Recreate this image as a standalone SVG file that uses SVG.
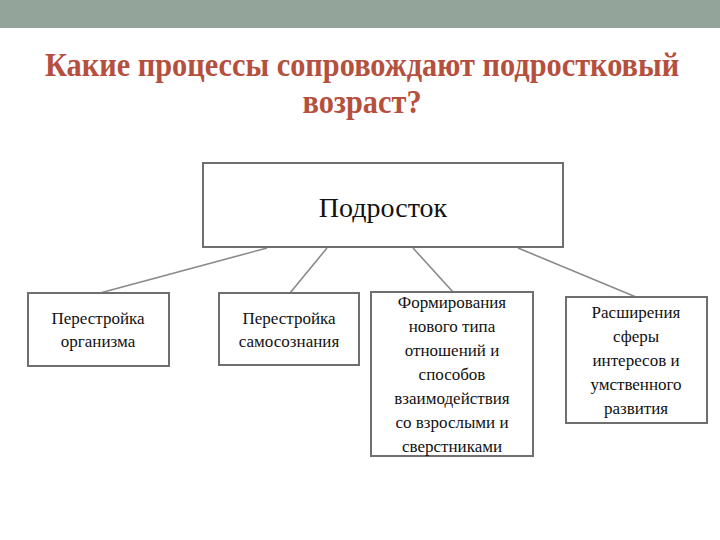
<svg xmlns="http://www.w3.org/2000/svg" width="720" height="540" viewBox="0 0 720 540">
<style>
.b{fill:#fff;stroke:#6f6f6f;stroke-width:2}
.t{font-family:"Liberation Serif","DejaVu Serif",serif;font-size:17px;fill:#111;text-anchor:middle}
.h{font-family:"Liberation Serif","DejaVu Serif",serif;font-weight:bold;font-size:33px;fill:#b5503e;text-anchor:middle}
.c{stroke:#8a8a8a;stroke-width:1.6;fill:none}
</style>
<rect width="720" height="540" fill="#fff"/>
<rect width="720" height="28" fill="#93a59a"/>
<g transform="scale(0.92,1)">
<text class="h" x="393.5" y="76">Какие процессы сопровождают подростковый</text>
<text class="h" x="393.5" y="113">возраст?</text>
</g>
<g id="connectors">
<line class="c" x1="267" y1="248" x2="100" y2="293"/>
<line class="c" x1="327" y1="248" x2="290" y2="293"/>
<line class="c" x1="413" y1="248" x2="453" y2="292"/>
<line class="c" x1="518" y1="248" x2="636" y2="297"/>
</g>
<g id="root"><rect class="b" x="203" y="163" width="360" height="84"/>
<text class="t" x="383" y="217" style="font-size:28px">Подросток</text></g>
<g id="n1"><rect class="b" x="28" y="293" width="141" height="73"/>
<text class="t" x="98" y="324">Перестройка</text><text class="t" x="98" y="347">организма</text></g>
<g id="n2"><rect class="b" x="219" y="293" width="140" height="72"/>
<text class="t" x="289" y="324">Перестройка</text><text class="t" x="289" y="347">самосознания</text></g>
<g id="n3"><rect class="b" x="371" y="292" width="162" height="164"/>
<text class="t" x="452" y="308">Формирования</text><text class="t" x="452" y="332">нового типа</text><text class="t" x="452" y="356">отношений и</text><text class="t" x="452" y="380">способов</text><text class="t" x="452" y="404">взаимодействия</text><text class="t" x="452" y="428">со взрослыми и</text><text class="t" x="452" y="452">сверстниками</text></g>
<g id="n4"><rect class="b" x="566" y="297" width="141" height="126"/>
<text class="t" x="636" y="318">Расширения</text><text class="t" x="636" y="342">сферы</text><text class="t" x="636" y="366">интересов и</text><text class="t" x="636" y="390">умственного</text><text class="t" x="636" y="414">развития</text></g>
</svg>
